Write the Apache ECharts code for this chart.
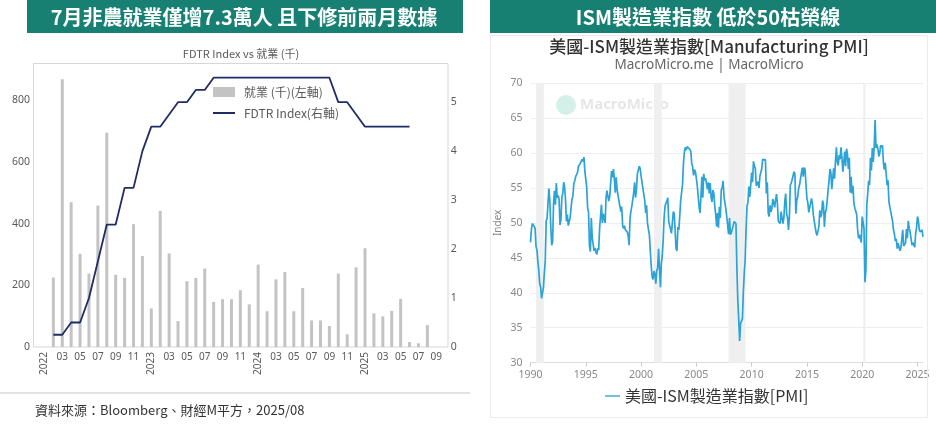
<!DOCTYPE html>
<html>
<head>
<meta charset="utf-8">
<script src="https://cdn.jsdelivr.net/npm/echarts@6/dist/echarts.min.js"></script>
<style>
html, body { margin: 0; padding: 0; background: #fff; }
#main { width: 936px; height: 427px; }
</style>
</head>
<body>
<div id="main"></div>
<script>
// 左圖: 非農就業 (千) vs FDTR
var jobMonths = [
    '2022-01','2022-02','2022-03','2022-04','2022-05','2022-06','2022-07','2022-08','2022-09','2022-10','2022-11','2022-12',
    '2023-01','2023-02','2023-03','2023-04','2023-05','2023-06','2023-07','2023-08','2023-09','2023-10','2023-11','2023-12',
    '2024-01','2024-02','2024-03','2024-04','2024-05','2024-06','2024-07','2024-08','2024-09','2024-10','2024-11','2024-12',
    '2025-01','2025-02','2025-03','2025-04','2025-05','2025-06','2025-07','2025-08','2025-09'
];
var jobsK = [null, 225, 867, 469, 302, 238, 458, 694, 234, 224, 398, 295, 125,
    441, 303, 84, 213, 224, 254, 146, 155, 155, 184, 138, 267,
    116, 219, 243, 116, 191, 86, 86, 68, 238, 41, 258, 320,
    109, 99, 117, 156, 16, 12, 71, null];
var fdtr = [null, 0.25, 0.25, 0.5, 0.5, 1.0, 1.75, 2.5, 2.5, 3.25, 3.25, 4.0, 4.5,
    4.5, 4.75, 5.0, 5.0, 5.25, 5.25, 5.5, 5.5, 5.5, 5.5, 5.5, 5.5,
    5.5, 5.5, 5.5, 5.5, 5.5, 5.5, 5.5, 5.5, 5.0, 5.0, 4.75, 4.5,
    4.5, 4.5, 4.5, 4.5, 4.5, null, null, null];

// 右圖: ISM 製造業指數, 每年 12 個月
var pmi1990 = [47.2, 49.1, 49.9, 50.0, 49.5, 49.2, 46.6, 46.1, 44.5, 43.2, 41.3, 40.8];
var pmi1991 = [39.2, 39.4, 40.7, 42.8, 44.5, 50.3, 50.6, 52.9, 54.9, 53.1, 49.5, 46.8];
var pmi1992 = [47.3, 52.7, 54.6, 52.6, 55.7, 53.6, 53.9, 53.4, 49.7, 50.4, 53.6, 54.2];
var pmi1993 = [55.8, 55.2, 53.3, 50.2, 51.2, 49.6, 50.2, 50.7, 50.8, 53.4, 53.8, 55.6];
var pmi1994 = [56.0, 56.6, 56.7, 57.2, 58.1, 58.2, 58.5, 58.6, 59.1, 58.8, 59.4, 57.4];
var pmi1995 = [57.2, 55.1, 52.1, 51.5, 46.7, 45.9, 50.7, 47.9, 48.0, 46.0, 46.4, 45.8];
var pmi1996 = [45.5, 46.4, 46.1, 49.2, 49.2, 52.6, 50.0, 51.3, 51.3, 50.0, 53.6, 54.6];
var pmi1997 = [53.8, 53.1, 53.8, 55.7, 57.4, 56.5, 57.7, 56.3, 54.3, 56.5, 54.8, 53.9];
var pmi1998 = [53.7, 52.4, 51.6, 52.3, 49.6, 49.2, 49.6, 49.0, 48.8, 48.7, 48.2, 46.8];
var pmi1999 = [50.6, 51.7, 52.4, 52.3, 54.3, 55.8, 53.6, 54.8, 57.0, 57.2, 58.1, 57.8];
var pmi2000 = [56.7, 55.8, 54.9, 54.7, 53.2, 51.4, 52.5, 49.9, 49.9, 48.3, 48.5, 43.9];
var pmi2001 = [42.3, 41.9, 43.1, 42.7, 41.3, 43.2, 43.5, 46.3, 46.2, 40.8, 44.1, 45.3];
var pmi2002 = [47.5, 50.7, 52.4, 52.4, 53.1, 53.6, 50.2, 50.3, 50.0, 48.5, 48.5, 51.6];
var pmi2003 = [51.3, 48.8, 46.3, 46.0, 49.4, 49.0, 51.0, 53.2, 53.4, 55.5, 58.5, 60.1];
var pmi2004 = [60.8, 60.4, 60.9, 61.1, 61.0, 60.5, 60.2, 58.5, 58.0, 56.8, 57.6, 57.3];
var pmi2005 = [56.4, 55.3, 55.2, 52.3, 51.4, 53.8, 56.6, 53.6, 57.0, 56.1, 56.4, 55.6];
var pmi2006 = [54.8, 55.8, 54.2, 55.7, 53.7, 53.0, 54.7, 54.2, 52.4, 51.2, 49.5, 51.4];
var pmi2007 = [49.3, 52.3, 50.7, 54.7, 55.0, 56.0, 53.8, 52.9, 52.0, 50.9, 50.8, 48.4];
var pmi2008 = [50.7, 48.3, 48.6, 48.6, 49.6, 50.2, 50.0, 49.9, 43.5, 38.9, 36.2, 33.1];
var pmi2009 = [35.6, 35.8, 36.3, 40.1, 42.8, 44.8, 49.2, 52.4, 52.9, 55.2, 53.7, 55.4];
var pmi2010 = [57.2, 55.8, 58.8, 58.1, 57.8, 55.3, 55.1, 55.9, 55.0, 56.7, 57.2, 57.8];
var pmi2011 = [59.1, 59.3, 59.1, 59.0, 54.2, 55.8, 51.4, 50.9, 52.5, 51.6, 52.1, 53.4];
var pmi2012 = [52.9, 52.2, 53.3, 54.1, 52.7, 50.2, 50.0, 49.9, 51.6, 51.5, 49.9, 50.7];
var pmi2013 = [53.1, 54.2, 51.3, 50.7, 49.0, 50.9, 55.4, 55.7, 56.2, 56.4, 57.3, 57.0];
var pmi2014 = [51.3, 53.2, 53.7, 54.9, 55.4, 55.3, 57.1, 57.9, 56.6, 57.9, 57.6, 55.5];
var pmi2015 = [53.5, 52.9, 51.5, 51.5, 52.8, 53.5, 52.7, 51.1, 50.2, 50.1, 48.6, 48.2];
var pmi2016 = [48.2, 49.5, 51.8, 50.8, 51.3, 53.2, 52.6, 49.4, 51.5, 51.9, 53.2, 54.7];
var pmi2017 = [56.0, 57.7, 57.2, 54.8, 54.9, 57.8, 56.3, 58.8, 60.8, 58.7, 58.2, 59.7];
var pmi2018 = [59.1, 60.8, 59.3, 57.3, 58.7, 60.2, 58.1, 60.6, 59.8, 57.7, 59.3, 54.3];
var pmi2019 = [56.6, 54.2, 55.3, 52.8, 52.1, 51.7, 51.2, 49.1, 47.8, 48.3, 48.1, 47.2];
var pmi2020 = [50.9, 50.1, 49.1, 41.5, 43.1, 52.6, 54.2, 56.0, 55.4, 59.3, 57.5, 60.7];
var pmi2021 = [58.7, 60.8, 64.7, 60.7, 61.2, 60.6, 59.5, 59.9, 61.1, 60.8, 61.1, 58.7];
var pmi2022 = [57.6, 58.6, 57.1, 55.4, 56.1, 53.0, 52.8, 52.8, 50.9, 50.2, 49.0, 48.4];
var pmi2023 = [47.4, 47.7, 46.3, 47.1, 46.9, 46.0, 46.4, 47.6, 49.0, 46.7, 46.7, 47.1];
var pmi2024 = [49.1, 47.8, 50.3, 49.2, 48.7, 48.5, 46.8, 47.2, 47.2, 46.5, 48.4, 49.3];
var pmi2025 = [50.9, 50.3, 49.0, 48.7, 48.5, 49.0, 48.0];
var pmiFirstYear = 1990;

// 衰退期 (灰色區塊)
var recessions = [[1990.5, 1991.2], [2001.17, 2001.87], [2007.92, 2009.45], [2020.1, 2020.3]];

var pmiYears = [pmi1990, pmi1991, pmi1992, pmi1993, pmi1994, pmi1995, pmi1996, pmi1997, pmi1998, pmi1999,
    pmi2000, pmi2001, pmi2002, pmi2003, pmi2004, pmi2005, pmi2006, pmi2007, pmi2008, pmi2009,
    pmi2010, pmi2011, pmi2012, pmi2013, pmi2014, pmi2015, pmi2016, pmi2017, pmi2018, pmi2019,
    pmi2020, pmi2021, pmi2022, pmi2023, pmi2024, pmi2025];
var pmiData = [];
pmiYears.forEach(function (arr, yi) {
    arr.forEach(function (v, m) {
        pmiData.push([pmiFirstYear + yi + m / 12, v]);
    });
});

var FONT = '"Noto Sans", "Noto Sans CJK TC", sans-serif';
var CJK = '"Noto Sans CJK TC", "Noto Sans", sans-serif';
// 圖例用的細線 (M 點撐開外框, 中間畫一條 2px 線)
var lineIcon = 'path://M0,0 M0,4 L22,4 L22,6 L0,6 Z M22,10';

var chart = echarts.init(document.getElementById('main'), null, {renderer: 'canvas'});
var option = {
    animation: false,
    backgroundColor: '#ffffff',
    textStyle: {fontFamily: FONT},
    title: [
        {
            text: 'FDTR Index vs 就業 (千)',
            left: 241, top: 48, textAlign: 'center', padding: 0,
            textStyle: {fontSize: 11, fontWeight: 'normal', color: '#595959', fontFamily: CJK}
        },
        {
            text: '美國-ISM製造業指數[Manufacturing PMI]',
            subtext: 'MacroMicro.me | MacroMicro',
            left: 709, top: 38, textAlign: 'center', padding: 0, itemGap: 3,
            textStyle: {fontSize: 17, fontWeight: 500, color: '#333333', fontFamily: CJK},
            subtextStyle: {fontSize: 13.5, color: '#666666', fontFamily: FONT}
        }
    ],
    legend: [
        {
            orient: 'vertical', left: 213, top: 86, padding: 0, itemGap: 9,
            itemWidth: 22, itemHeight: 10,
            textStyle: {fontSize: 12, color: '#595959', fontFamily: CJK, padding: [0, 0, 0, 4]},
            data: [
                {name: '就業 (千)(左軸)', icon: 'rect'},
                {name: 'FDTR Index(右軸)', icon: lineIcon}
            ]
        },
        {
            left: 605, top: 388, padding: 0,
            itemWidth: 15, itemHeight: 10,
            textStyle: {fontSize: 16, color: '#333333', fontFamily: CJK},
            data: [{name: '美國-ISM製造業指數[PMI]', icon: lineIcon}]
        }
    ],
    grid: [
        {left: 40, top: 63, width: 400.7, height: 284, outerBoundsMode: 'none'},
        {left: 530.5, top: 83, width: 392.5, height: 279.7, outerBoundsMode: 'none'}
    ],
    xAxis: [
        {
            type: 'category', gridIndex: 0, position: 'bottom', data: jobMonths,
            axisLine: {show: false}, axisTick: {show: false}, splitLine: {show: false},
            axisLabel: {
                interval: 1, margin: 5, fontSize: 10, color: '#595959',
                formatter: function (v) { var m = v.slice(5); return m === '01' ? '' : m; }
            }
        },
        {
            type: 'category', gridIndex: 0, position: 'bottom', data: jobMonths,
            axisLine: {show: false}, axisTick: {show: false}, splitLine: {show: false},
            axisLabel: {
                interval: 0, rotate: 90, margin: 5, fontSize: 10, color: '#595959',
                formatter: function (v) { return v.slice(5) === '01' ? v.slice(0, 4) : ''; }
            }
        },
        {
            type: 'value', gridIndex: 1, min: 1990, max: 2025.5, interval: 5,
            axisLine: {show: true, lineStyle: {color: '#dddddd'}},
            axisTick: {show: true, length: 4, lineStyle: {color: '#cccccc'}},
            splitLine: {show: false},
            axisLabel: {
                showMaxLabel: false, margin: 7, fontSize: 10.5, color: '#888888',
                formatter: function (v) { return String(v); }
            }
        }
    ],
    yAxis: [
        {
            type: 'value', gridIndex: 0, position: 'left', min: 0, max: 920, interval: 200,
            axisLine: {show: false}, axisTick: {show: false}, splitLine: {show: false},
            axisLabel: {showMaxLabel: false, margin: 10, fontSize: 10.5, color: '#595959'}
        },
        {
            type: 'value', gridIndex: 0, position: 'right', min: 0, max: 5.8, interval: 1,
            axisLine: {show: false}, axisTick: {show: false}, splitLine: {show: false},
            axisLabel: {showMaxLabel: false, margin: 10, fontSize: 10.5, color: '#595959'}
        },
        {
            type: 'value', gridIndex: 1, min: 30, max: 70, interval: 5,
            name: 'Index', nameLocation: 'middle', nameRotate: 90, nameGap: 27,
            nameTextStyle: {fontSize: 10, color: '#888888'},
            axisLine: {show: false}, axisTick: {show: false},
            splitLine: {show: true, lineStyle: {color: '#eeeeee'}},
            axisLabel: {margin: 8, fontSize: 10.5, color: '#888888'}
        }
    ],
    series: [
        {
            name: '就業 (千)(左軸)', type: 'bar', xAxisIndex: 0, yAxisIndex: 0,
            data: jobsK, barWidth: 3,
            itemStyle: {color: '#c3c3c3'}
        },
        {
            name: 'FDTR Index(右軸)', type: 'line', xAxisIndex: 0, yAxisIndex: 1,
            data: fdtr, symbol: 'none', connectNulls: false,
            lineStyle: {color: '#1f2c66', width: 1.8},
            itemStyle: {color: '#1f2c66'}
        },
        {
            name: '美國-ISM製造業指數[PMI]', type: 'line', xAxisIndex: 2, yAxisIndex: 2,
            data: pmiData, symbol: 'none',
            lineStyle: {color: '#2ba3d6', width: 1.7},
            itemStyle: {color: '#2ba3d6'},
            markArea: {
                silent: true,
                itemStyle: {color: '#efefef'},
                data: recessions.map(function (r) { return [{xAxis: r[0]}, {xAxis: r[1]}]; })
            }
        }
    ],
    graphic: [
        // 標題橫幅
        {type: 'rect', shape: {x: 27, y: 0, width: 436, height: 33}, style: {fill: '#187f73'}, z: 10},
        {type: 'text', x: 244, y: 17, z: 11, style: {
            text: '7月非農就業僅增7.3萬人 且下修前兩月數據', fill: '#ffffff',
            font: 'bold 20px "Noto Sans CJK TC"', textAlign: 'center', textVerticalAlign: 'middle'}},
        {type: 'rect', shape: {x: 490, y: 0, width: 446, height: 33}, style: {fill: '#187f73'}, z: 10},
        {type: 'text', x: 708, y: 17, z: 11, style: {
            text: 'ISM製造業指數 低於50枯榮線', fill: '#ffffff',
            font: 'bold 20px "Noto Sans CJK TC"', textAlign: 'center', textVerticalAlign: 'middle'}},
        // 左圖框
        {type: 'rect', shape: {x: 33.5, y: 63.5, width: 414.5, height: 283.5},
            style: {fill: 'none', stroke: '#d6d6d6', lineWidth: 1}, z: 1},
        // 右卡片
        {type: 'rect', shape: {x: 490.5, y: 35.5, width: 437, height: 382},
            style: {fill: 'none', stroke: '#ebebeb', lineWidth: 1}, z: 1},
        // 浮水印
        {type: 'circle', shape: {cx: 566, cy: 105, r: 10}, style: {fill: '#d5efe9'}, z: 0},
        {type: 'text', x: 580, y: 105, z: 0, style: {
            text: 'MacroMicro', fill: '#e6e6e6', font: 'bold 15px "Noto Sans"', textVerticalAlign: 'middle'}},
        // 分隔線與資料來源
        {type: 'line', shape: {x1: 0, y1: 393, x2: 470, y2: 393}, style: {stroke: '#e3e3e3', lineWidth: 2}},
        {type: 'text', x: 35, y: 410, style: {
            text: '資料來源：Bloomberg、財經M平方，2025/08', fill: '#333333',
            font: '13px "Noto Sans CJK TC"', textVerticalAlign: 'middle'}}
    ]
};
chart.setOption(option);
</script>
</body>
</html>
